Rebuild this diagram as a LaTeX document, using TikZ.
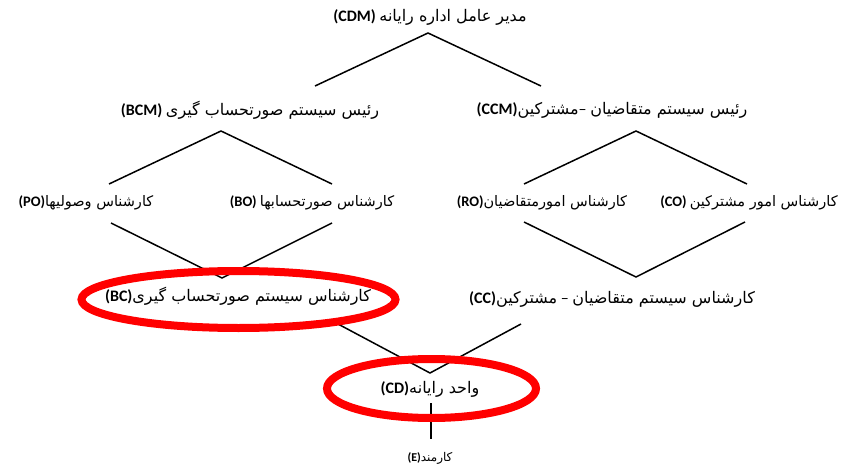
\documentclass[tikz,border=0pt]{standalone}
\usepackage{fontspec}
\setmainfont{Carlito}
\newfontfamily\arfont[Script=Arabic]{DejaVu Sans}
\TeXXeTstate=1
% Persian run, set right to left
\newcommand{\fa}[1]{{\arfont\beginR #1\endR}}
% Latin code in parentheses
\newcommand{\code}[1]{\textbf{#1}}
\begin{document}
\begin{tikzpicture}[x=1pt,y=-1pt,
  lbl/.style={inner sep=0pt, anchor=center, font=\fontsize{16}{18}\selectfont},
  lblmid/.style={lbl, font=\fontsize{14.5}{17}\selectfont},
  small/.style={inner sep=0pt, anchor=center, font=\fontsize{12}{14}\selectfont},
  link/.style={line width=1.5pt, black},
  ring/.style={line width=8pt, red}]
\useasboundingbox (0,0) rectangle (846,468);
\fill[white] (0,0) rectangle (846,468);

% labels
\node[lbl] (cdm) at (430,17) {\code{(CDM)} \fa{مدیر عامل اداره رایانه}};
\node[lbl] (bcm) at (250,110) {\code{(BCM)} \fa{رئیس سیستم صورتحساب گیری}};
\node[lbl] (ccm) at (612,110) {\code{(CCM)}\fa{مشترکین}–\ \fa{رئیس سیستم متقاضیان}};
\node[lblmid] (po) at (86,203) {\code{(PO)}\fa{کارشناس وصولیها}};
\node[lblmid] (bo) at (312,203) {\code{(BO)} \fa{کارشناس صورتحسابها}};
\node[lblmid] (ro) at (542,203) {\code{(RO)}\fa{کارشناس امورمتقاضیان}};
\node[lblmid] (co) at (749,203) {\code{(CO)} \fa{کارشناس امور مشترکین}};
\node[lbl] (bc) at (238,296) {\code{(BC)}\fa{کارشناس سیستم صورتحساب گیری}};
\node[lbl] (cc) at (612,299) {\code{(CC)}\fa{مشترکین} – \fa{کارشناس سیستم متقاضیان}};
\node[lbl] (cd) at (430,389) {\code{(CD)}\fa{واحد رایانه}};
\node[small] (e) at (430,458) {\code{(E)}\fa{کارمند}};

% connector end points
\coordinate (cdm-top) at (428,33);
\coordinate (cdm-l) at (315,86);
\coordinate (cdm-r) at (541,86);
\coordinate (bcm-top) at (221,131);
\coordinate (bcm-l) at (109,184);
\coordinate (bcm-r) at (332,184);
\coordinate (ccm-top) at (636,131);
\coordinate (ccm-l) at (524,184);
\coordinate (ccm-r) at (747,184);
\coordinate (bc-l) at (111,223);
\coordinate (bc-r) at (332,223);
\coordinate (bc-bot) at (222,278);
\coordinate (cc-l) at (524,222);
\coordinate (cc-r) at (745,222);
\coordinate (cc-bot) at (636,277);
\coordinate (cd-l) at (338,324);
\coordinate (cd-r) at (521,324);
\coordinate (cd-top) at (430,373);
\coordinate (e-top) at (431,403);
\coordinate (e-bot) at (431,439);

% connectors
\draw[link] (cdm-l) -- (cdm-top) -- (cdm-r);
\draw[link] (bcm-l) -- (bcm-top) -- (bcm-r);
\draw[link] (ccm-l) -- (ccm-top) -- (ccm-r);
\draw[link] (bc-l) -- (bc-bot) -- (bc-r);
\draw[link] (cc-l) -- (cc-bot) -- (cc-r);
\draw[link] (cd-l) -- (cd-top) -- (cd-r);
\draw[link] (e-top) -- (e-bot);

% highlight rings
\draw[ring] (238.5,299.5) ellipse [x radius=157, y radius=28.5];
\draw[ring] (431.5,388.5) ellipse [x radius=104.5, y radius=29.5];
\end{tikzpicture}
\end{document}
